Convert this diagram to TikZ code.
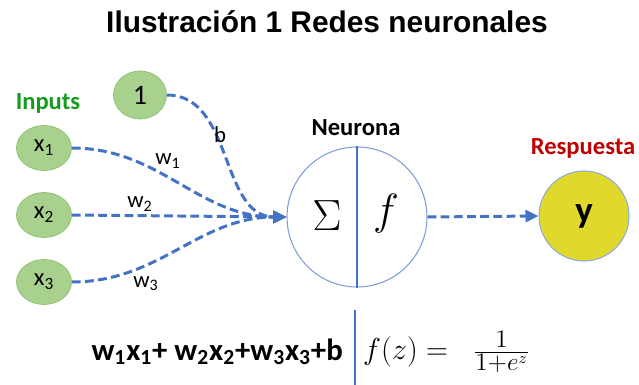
\documentclass[tikz,border=0pt]{standalone}
\usepackage{fontspec}
\setmainfont{Carlito}
\newfontfamily\titlefont{Liberation Sans}
\usetikzlibrary{arrows.meta,positioning,shapes.geometric}
\definecolor{INgreen}{HTML}{A9D18E}
\definecolor{INborder}{HTML}{8DBE70}
\definecolor{EDblue}{HTML}{4472C4}
\definecolor{OUTyellow}{HTML}{E0D82A}
\definecolor{LBgreen}{HTML}{169C1E}
\definecolor{LBred}{HTML}{C00000}
\begin{document}
\begin{tikzpicture}[
  x=0.02cm, y=-0.02cm,
  inp/.style={ellipse,draw=INborder,fill=INgreen,inner sep=0pt,minimum width=1.1cm,minimum height=0.9cm,font=\fontsize{14}{16}\selectfont},
  link/.style={draw=EDblue,line width=1.7pt,dash pattern=on 5pt off 2.5pt,-{Triangle[length=2.6mm,width=2.4mm]}},
  head/.style={font=\fontsize{14}{16}\selectfont\bfseries},
  wlab/.style={font=\fontsize{13}{15}\selectfont}
]
\useasboundingbox (0,0) rectangle (639,385);
\node[font=\titlefont\fontsize{17}{19}\selectfont\bfseries] (title) at (327,22) {Ilustración 1 Redes neuronales};
% entradas
\node[inp,minimum width=1.06cm,minimum height=0.96cm,font=\fontsize{16}{18}\selectfont] (one) at (140,95) {1};
\node[inp] (x1) at (44,148) {x\textsubscript{1}};
\node[inp] (x2) at (44,215) {x\textsubscript{2}};
\node[inp] (x3) at (44,282) {x\textsubscript{3}};
\node[head,text=LBgreen] (inputs) at (48,103) {Inputs};
% neurona
\node[circle,draw=EDblue!70,line width=0.6pt,minimum size=2.8cm,inner sep=0pt] (neu) at (357,217) {};
\draw[EDblue,line width=0.9pt] (neu.north) -- (neu.south);
\node[font=\fontsize{32}{34}\selectfont] (sum) at (327,216) {$\Sigma$};
\node[font=\fontsize{36}{38}\selectfont] (fun) at (386,214) {$f$};
\node[head] (neurona) at (356,128) {Neurona};
% salida
\node[circle,draw=EDblue!60,fill=OUTyellow,line width=0.6pt,minimum size=1.8cm,inner sep=0pt,font=\fontsize{21}{23}\selectfont\bfseries] (out) at (584,216) {y};
\node[head,text=LBred] (resp) at (583,148) {Respuesta};
% conexiones
\draw[link] (one.east) to[out=0,in=180] (neu.west);
\draw[link] (x1.east) to[out=0,in=180] (neu.west);
\draw[link] (x2.east) -- (neu.west);
\draw[link] (x3.east) to[out=0,in=180] (neu.west);
\draw[link] (neu.east) -- (out.west);
\node[wlab] (b) at (220,135) {b};
\node[wlab] (w1) at (168,161) {w\textsubscript{1}};
\node[wlab] (w2) at (140,204) {w\textsubscript{2}};
\node[wlab] (w3) at (146,284) {w\textsubscript{3}};
% formula
\node[font=\fontsize{17.5}{19}\selectfont\bfseries,anchor=east] (sumf) at (349,352) {w\textsubscript{1}x\textsubscript{1}+ w\textsubscript{2}x\textsubscript{2}+w\textsubscript{3}x\textsubscript{3}+b};
\coordinate (sepT) at (355,310);
\coordinate (sepB) at (355,385);
\draw[EDblue,line width=0.9pt] (sepT) -- (sepB);
\node[font=\fontsize{19}{21}\selectfont,anchor=west] (actf) at (357,352) {$f(z) = \;\;\frac{1}{1+e^{z}}$};
\end{tikzpicture}
\end{document}
